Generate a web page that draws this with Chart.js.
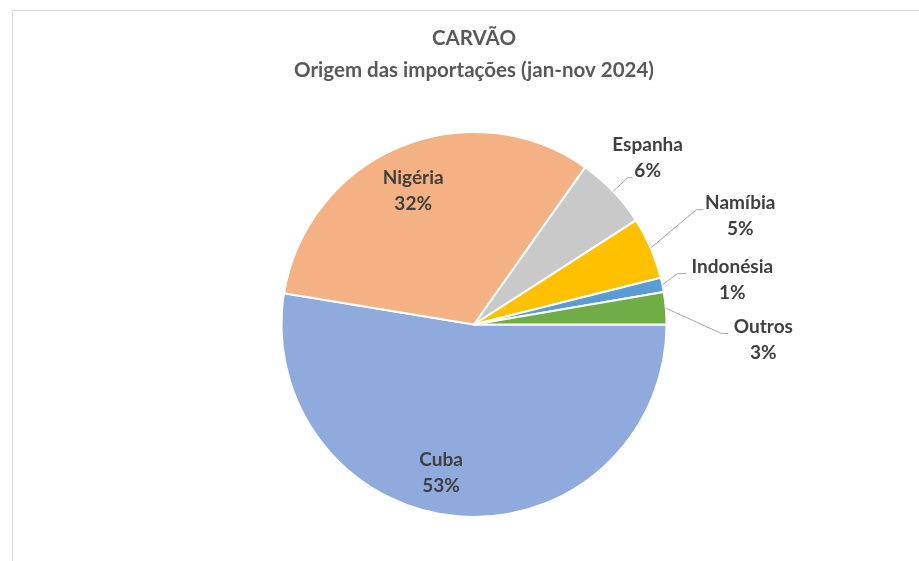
<!DOCTYPE html>
<html>
<head>
<meta charset="utf-8">
<script src="https://cdn.jsdelivr.net/npm/chart.js@4"></script>
<style>
  html, body { margin: 0; padding: 0; background: #fff; }
  #wrap { width: 919px; height: 561px; position: relative; }
</style>
</head>
<body>
<div id="wrap"><canvas id="pieChart" width="919" height="561"></canvas></div>
<script>
// data
const countries = ["Cuba", "Nigéria", "Espanha", "Namíbia", "Indonésia", "Outros"];
const shares = [52.6, 32.2, 6.1, 5.2, 1.2, 2.7];
const sliceColors = ["#8FAADC", "#F4B183", "#C9C9C9", "#FFC000", "#5B9BD5", "#70AD47"];
const titleLines = ["CARVÃO", "Origem das importações (jan-nov 2024)"];

// label placement, in units of the pie radius from its centre
const labelLayout = [
  { inside: true, at: [-0.171, 0.772] },
  { inside: true, at: [-0.316, -0.694] },
  { at: [0.902, -0.865], elbow: [0.798, -0.762], end: 0.824 },
  { at: [1.383, -0.565], elbow: [1.155, -0.596], end: 1.192 },
  { at: [1.342, -0.233], elbow: [1.057, -0.264], end: 1.104 },
  { at: [1.503, 0.078], elbow: [1.285, 0.047], end: 1.321 }
];

const frame = {
  id: 'frame',
  beforeDraw(chart) {
    const c = chart.ctx;
    c.save();
    c.strokeStyle = '#d9d9d9';
    c.lineWidth = 1;
    c.beginPath();
    c.moveTo(12.5, 561);
    c.lineTo(12.5, 10.5);
    c.lineTo(919, 10.5);
    c.stroke();
    c.restore();
  }
};

const sliceLabels = {
  id: 'sliceLabels',
  afterDatasetsDraw(chart) {
    const c = chart.ctx;
    const arcs = chart.getDatasetMeta(0).data;
    const total = shares.reduce((a, b) => a + b, 0);
    c.save();
    c.font = 'bold 19px Lato';
    c.fillStyle = '#404040';
    c.textAlign = 'center';
    c.textBaseline = 'middle';
    arcs.forEach(function(arc, i) {
      const r = arc.outerRadius;
      const cx = arc.x, cy = arc.y;
      const lay = labelLayout[i];
      const lx = cx + lay.at[0] * r;
      const ly = cy + lay.at[1] * r;
      if (!lay.inside) {
        const mid = (arc.startAngle + arc.endAngle) / 2;
        c.strokeStyle = '#a6a6a6';
        c.lineWidth = 1;
        c.beginPath();
        c.moveTo(cx + Math.cos(mid) * r, cy + Math.sin(mid) * r);
        c.lineTo(cx + lay.elbow[0] * r, cy + lay.elbow[1] * r);
        c.lineTo(cx + lay.end * r, cy + lay.elbow[1] * r);
        c.stroke();
      }
      const pct = Math.round(shares[i] / total * 100) + '%';
      c.fillText(countries[i], lx, ly - 13);
      c.fillText(pct, lx, ly + 13);
    });
    c.restore();
  }
};

const ctx = document.getElementById('pieChart').getContext('2d');
new Chart(ctx, {
  type: 'pie',
  data: {
    labels: countries,
    datasets: [{
      data: shares,
      backgroundColor: sliceColors,
      borderColor: '#ffffff',
      borderWidth: 2,
      hoverOffset: 0
    }]
  },
  options: {
    responsive: false,
    animation: false,
    rotation: 90,
    layout: { padding: { top: 0, left: 280, right: 251, bottom: 43 } },
    plugins: {
      legend: { display: false },
      tooltip: { enabled: false },
      title: {
        display: true,
        text: titleLines,
        color: '#595959',
        font: { family: 'Lato', size: 20.5, weight: 'bold', lineHeight: 1.56 },
        padding: { top: 22, bottom: 45 }
      }
    }
  },
  plugins: [frame, sliceLabels]
});
</script>
</body>
</html>
